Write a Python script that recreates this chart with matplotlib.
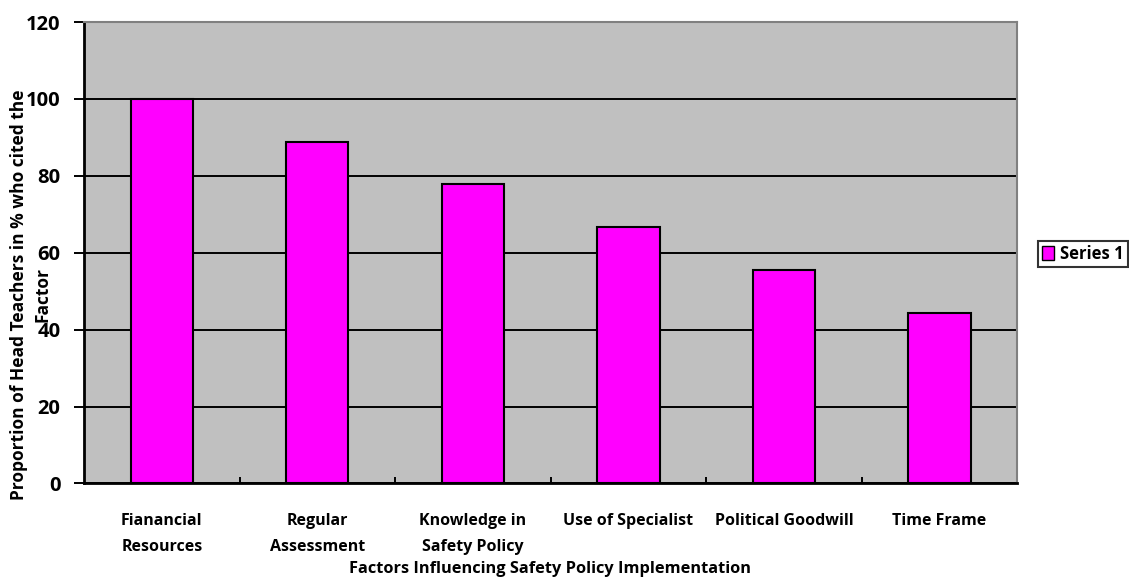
import matplotlib
matplotlib.use("Agg")
import matplotlib.pyplot as plt
from matplotlib.patches import Patch

# donnees
facteurs = ["Fianancial\nResources", "Regular\nAssessment", "Knowledge in\nSafety Policy",
            "Use of Specialist", "Political Goodwill", "Time Frame"]
valeurs = [100, 88.9, 77.8, 66.7, 55.6, 44.4]
graduations = [0, 20, 40, 60, 80, 100, 120]

plt.rcParams['font.family'] = ['Open Sans', 'DejaVu Sans']
plt.rcParams['font.weight'] = 'bold'

fig = plt.figure(figsize=(11.29, 5.8), dpi=100)
ax = fig.add_axes([0.0744, 0.1664, 0.8267, 0.7956])
ax.set_facecolor('#C0C0C0')

x = list(range(len(facteurs)))
ax.set_axisbelow(True)
ax.yaxis.grid(True, color='black', linewidth=1.4)
ax.bar(x, valeurs, width=0.4, color='#FF00FF', edgecolor='black', linewidth=1.5, zorder=3)

ax.set_xlim(-0.5, len(facteurs) - 0.5)
ax.set_ylim(0, 120)
ax.set_yticks(graduations)
ax.set_yticklabels([str(g) for g in graduations], fontsize=14.5, fontweight='bold')
ax.tick_params(axis='y', length=7, width=1.4, pad=10)

# graduations aux limites des categories, etiquettes au centre
ax.set_xticks([i + 0.5 for i in x[:-1]])
ax.set_xticklabels([])
ax.tick_params(axis='x', which='major', direction='in', length=4, width=1.4)
ax.set_xticks(x, minor=True)
ax.set_xticklabels(facteurs, minor=True, fontsize=11.5, fontweight='bold', linespacing=1.85)
ax.tick_params(axis='x', which='minor', length=0, pad=21)

for cote in ['left', 'bottom']:
    ax.spines[cote].set_linewidth(2)
    ax.spines[cote].set_color('black')
for cote in ['top', 'right']:
    ax.spines[cote].set_linewidth(1.5)
    ax.spines[cote].set_color('#808080')

fig.text(550 / 1129, 1 - 569 / 580, "Factors Influencing Safety Policy Implementation",
         ha='center', va='center', fontsize=11.8, fontweight='bold')
fig.text(31 / 1129, 1 - 295 / 580, "Proportion of Head Teachers in % who cited the\nFactor",
         ha='center', va='center', rotation=90, fontsize=12.5, fontweight='bold',
         multialignment='center', linespacing=1.4)

leg = fig.legend(handles=[Patch(facecolor='#FF00FF', edgecolor='black', label='Series 1')],
                 loc='center left', bbox_to_anchor=(1038 / 1129, 1 - 254 / 580),
                 frameon=True, fancybox=False, fontsize=12, handlelength=0.7,
                 handleheight=0.9, handletextpad=0.4, borderpad=0.25, borderaxespad=0)
leg.get_frame().set_edgecolor('black')
leg.get_frame().set_linewidth(1.5)
for t in leg.get_texts():
    t.set_fontweight('bold')

fig.savefig("out.png", dpi=100)
